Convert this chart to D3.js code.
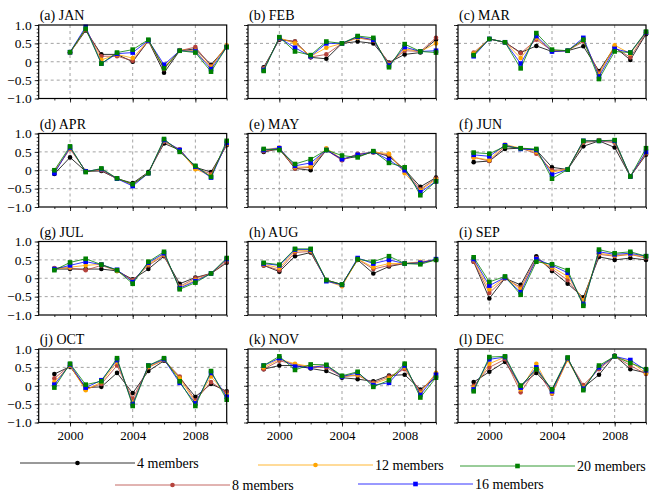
<!DOCTYPE html>
<html>
<head>
<meta charset="utf-8">
<script src="https://cdn.jsdelivr.net/npm/d3@7"></script>
<style>
  body { margin: 0; background: #fff; }
  svg { display: block; }
  svg text { font-family: "Liberation Serif", "Times New Roman", serif !important; }
</style>
</head>
<body>
<svg id="chart" width="663" height="500"></svg>
<script>
// values, one row per ensemble size (4, 8, 12, 16, 20 members)
const years = [1999, 2000, 2001, 2002, 2003, 2004, 2005, 2006, 2007, 2008, 2009, 2010];
const members = ["4 members", "8 members", "12 members", "16 members", "20 members"];
const months = ["JAN", "FEB", "MAR", "APR", "MAY", "JUN", "JUL", "AUG", "SEP", "OCT", "NOV", "DEC"];
const letters = ["a", "b", "c", "d", "e", "f", "g", "h", "i", "j", "k", "l"];
const yTicks = [-1, -0.5, 0, 0.5, 1];
const xTicks = [2000, 2004, 2008];

const jan = [
  [null, 0.25, 0.85, 0.2, 0.2, 0.0, 0.57, -0.3, 0.3, 0.35, -0.08, 0.4],
  [null, 0.25, 0.88, 0.15, 0.15, 0.03, 0.57, -0.2, 0.3, 0.4, -0.12, 0.42],
  [null, 0.25, 0.9, 0.05, 0.2, 0.1, 0.58, -0.15, 0.32, 0.3, -0.15, 0.45],
  [null, 0.26, 0.95, -0.05, 0.22, 0.25, 0.58, -0.08, 0.3, 0.28, -0.2, 0.4],
  [null, 0.26, 0.9, -0.05, 0.25, 0.33, 0.6, -0.18, 0.3, 0.25, -0.27, 0.4]
];
const feb = [
  [-0.15, 0.6, 0.55, 0.12, 0.08, 0.5, 0.55, 0.5, -0.02, 0.2, 0.25, 0.6],
  [-0.18, 0.62, 0.55, 0.13, 0.2, 0.5, 0.65, 0.58, -0.05, 0.3, 0.28, 0.65],
  [-0.2, 0.65, 0.5, 0.15, 0.38, 0.5, 0.65, 0.6, -0.08, 0.35, 0.28, 0.5],
  [-0.22, 0.65, 0.38, 0.15, 0.5, 0.5, 0.68, 0.6, -0.1, 0.4, 0.28, 0.3],
  [-0.25, 0.67, 0.28, 0.18, 0.55, 0.5, 0.7, 0.65, -0.15, 0.48, 0.28, 0.25]
];
const mar = [
  [0.2, 0.62, 0.53, 0.25, 0.43, 0.28, 0.3, 0.42, -0.25, 0.4, 0.05, 0.75],
  [0.25, 0.62, 0.53, 0.23, 0.6, 0.3, 0.3, 0.55, -0.3, 0.38, 0.12, 0.78],
  [0.22, 0.62, 0.53, 0.1, 0.65, 0.3, 0.3, 0.6, -0.35, 0.45, 0.22, 0.8],
  [0.15, 0.62, 0.53, -0.05, 0.7, 0.28, 0.3, 0.65, -0.4, 0.35, 0.25, 0.8],
  [0.18, 0.62, 0.53, -0.18, 0.78, 0.33, 0.3, 0.6, -0.47, 0.28, 0.25, 0.82]
];
const apr = [
  [-0.1, 0.35, -0.03, -0.02, -0.23, -0.35, -0.05, 0.73, 0.55, 0.08, -0.05, 0.68],
  [-0.05, 0.58, -0.02, 0.0, -0.23, -0.38, -0.08, 0.78, 0.57, 0.05, -0.1, 0.7],
  [-0.03, 0.6, -0.03, 0.02, -0.23, -0.4, -0.08, 0.8, 0.55, 0.03, -0.15, 0.72],
  [-0.08, 0.62, -0.03, 0.03, -0.23, -0.43, -0.08, 0.82, 0.55, 0.1, -0.2, 0.75],
  [0.0, 0.65, -0.05, 0.05, -0.22, -0.38, -0.08, 0.85, 0.5, 0.12, -0.18, 0.8]
];
const may = [
  [0.5, 0.58, 0.05, 0.0, 0.55, 0.3, 0.38, 0.5, 0.38, 0.02, -0.45, -0.2],
  [0.52, 0.58, 0.05, 0.08, 0.55, 0.27, 0.45, 0.48, 0.42, 0.0, -0.52, -0.22],
  [0.55, 0.62, 0.08, 0.1, 0.6, 0.3, 0.42, 0.5, 0.45, -0.08, -0.55, -0.25],
  [0.55, 0.6, 0.12, 0.2, 0.55, 0.3, 0.42, 0.5, 0.28, 0.0, -0.6, -0.3],
  [0.58, 0.55, 0.17, 0.3, 0.55, 0.4, 0.35, 0.52, 0.2, 0.08, -0.68, -0.3]
];
const jun = [
  [0.22, 0.25, 0.58, 0.6, 0.55, 0.08, 0.02, 0.65, 0.8, 0.62, -0.17, 0.42],
  [0.35, 0.25, 0.65, 0.6, 0.45, 0.0, 0.02, 0.75, 0.8, 0.75, -0.17, 0.45],
  [0.35, 0.28, 0.7, 0.6, 0.5, -0.05, 0.03, 0.78, 0.82, 0.78, -0.17, 0.48],
  [0.42, 0.38, 0.68, 0.58, 0.55, -0.12, 0.02, 0.8, 0.8, 0.8, -0.17, 0.5],
  [0.48, 0.45, 0.65, 0.6, 0.58, -0.23, 0.02, 0.8, 0.8, 0.82, -0.17, 0.6]
];
const jul = [
  [0.25, 0.25, 0.25, 0.25, 0.2, -0.03, 0.25, 0.6, -0.15, 0.02, 0.13, 0.42],
  [0.28, 0.28, 0.22, 0.35, 0.2, -0.05, 0.35, 0.62, -0.22, 0.0, 0.13, 0.45],
  [0.25, 0.3, 0.35, 0.38, 0.2, -0.08, 0.38, 0.65, -0.25, -0.05, 0.13, 0.5],
  [0.25, 0.35, 0.45, 0.37, 0.23, -0.1, 0.42, 0.68, -0.27, -0.08, 0.13, 0.52],
  [0.22, 0.43, 0.53, 0.37, 0.22, -0.15, 0.45, 0.72, -0.3, -0.12, 0.13, 0.55]
];
const aug = [
  [0.35, 0.18, 0.6, 0.7, -0.05, -0.17, 0.5, 0.13, 0.32, 0.4, 0.42, 0.5],
  [0.35, 0.22, 0.7, 0.73, -0.05, -0.18, 0.52, 0.25, 0.35, 0.4, 0.43, 0.5],
  [0.38, 0.28, 0.75, 0.75, -0.07, -0.22, 0.52, 0.3, 0.4, 0.4, 0.45, 0.5],
  [0.4, 0.35, 0.78, 0.78, -0.08, -0.18, 0.55, 0.4, 0.5, 0.4, 0.42, 0.52],
  [0.42, 0.37, 0.8, 0.8, -0.05, -0.17, 0.52, 0.45, 0.6, 0.4, 0.38, 0.5]
];
const sep = [
  [0.45, -0.55, 0.0, -0.18, 0.6, 0.2, -0.15, -0.52, 0.58, 0.5, 0.55, 0.5],
  [0.45, -0.4, 0.0, -0.25, 0.55, 0.25, -0.05, -0.6, 0.65, 0.6, 0.65, 0.55],
  [0.5, -0.3, 0.02, -0.3, 0.5, 0.3, 0.05, -0.6, 0.68, 0.62, 0.65, 0.58],
  [0.52, -0.2, 0.02, -0.38, 0.52, 0.35, 0.15, -0.7, 0.72, 0.65, 0.68, 0.6],
  [0.57, -0.1, 0.05, -0.45, 0.45, 0.38, 0.22, -0.75, 0.78, 0.68, 0.72, 0.6]
];
const oct = [
  [0.32, 0.52, -0.05, -0.03, 0.35, -0.2, 0.4, 0.68, 0.22, -0.3, 0.05, -0.15],
  [0.2, 0.55, -0.1, 0.05, 0.55, -0.35, 0.5, 0.7, 0.25, -0.4, 0.1, -0.18],
  [0.1, 0.55, -0.12, 0.1, 0.65, -0.45, 0.52, 0.7, 0.2, -0.45, 0.25, -0.25],
  [0.03, 0.58, -0.05, 0.15, 0.7, -0.5, 0.55, 0.72, 0.08, -0.48, 0.35, -0.3],
  [-0.05, 0.6, 0.03, 0.12, 0.75, -0.55, 0.55, 0.75, 0.12, -0.55, 0.4, -0.38]
];
const nov = [
  [0.45, 0.55, 0.55, 0.47, 0.4, 0.22, 0.18, 0.12, 0.28, 0.3, -0.1, 0.22],
  [0.45, 0.68, 0.58, 0.5, 0.5, 0.25, 0.28, 0.08, 0.25, 0.45, -0.15, 0.32],
  [0.5, 0.72, 0.6, 0.52, 0.55, 0.25, 0.3, 0.05, 0.2, 0.5, -0.2, 0.35],
  [0.55, 0.75, 0.52, 0.5, 0.55, 0.25, 0.35, 0.02, 0.08, 0.55, -0.25, 0.3],
  [0.55, 0.8, 0.43, 0.58, 0.57, 0.27, 0.38, -0.03, 0.15, 0.6, -0.32, 0.22]
];
const dec = [
  [0.1, 0.38, 0.65, 0.0, 0.35, -0.1, 0.72, -0.05, 0.3, 0.82, 0.45, 0.35],
  [0.0, 0.5, 0.72, -0.18, 0.45, -0.22, 0.72, 0.02, 0.45, 0.8, 0.55, 0.32],
  [-0.05, 0.6, 0.78, -0.1, 0.6, -0.2, 0.7, -0.05, 0.5, 0.8, 0.65, 0.35],
  [-0.1, 0.72, 0.78, -0.05, 0.5, -0.15, 0.75, -0.08, 0.5, 0.8, 0.7, 0.42],
  [-0.15, 0.78, 0.8, 0.0, 0.45, -0.1, 0.77, -0.12, 0.55, 0.8, 0.62, 0.45]
];
const monthData = [jan, feb, mar, apr, may, jun, jul, aug, sep, oct, nov, dec];

const colors = ["#000000", "#b5433d", "#ffa500", "#0000ff", "#008000"];
const shapes = ["circle", "circle", "circle", "square", "square"];

const svg = d3.select("#chart");
const colX = [38.7, 248, 458], rowY = [25, 133.5, 241.5, 349];
const pw = 188, ph = 73.5;

const x = d3.scaleLinear().domain([1998, 2010]).range([0, pw]);
const y = d3.scaleLinear().domain([-1, 1]).range([ph, 0]);
const fmt = (d) => d === 0 ? "0" : d3.format(".1f")(d).replace("-", "\u2212");

function marker(g, k, cx, cy) {
  if (shapes[k] === "circle") {
    g.append("circle").attr("cx", cx).attr("cy", cy).attr("r", 2.3).attr("fill", colors[k]);
  } else {
    g.append("rect").attr("x", cx - 2.3).attr("y", cy - 2.3)
      .attr("width", 4.6).attr("height", 4.6).attr("fill", colors[k]);
  }
}

monthData.forEach((series, i) => {
  const col = i % 3, row = Math.floor(i / 3);
  const g = svg.append("g").attr("transform", `translate(${colX[col]},${rowY[row]})`);

  g.append("text").attr("x", 1).attr("y", -5).attr("font-size", 14)
    .text(`(${letters[i]}) ${months[i]}`);

  // dashed grid
  g.selectAll(".hg").data([-0.5, 0, 0.5]).join("line")
    .attr("x1", 0).attr("x2", pw).attr("y1", d => y(d)).attr("y2", d => y(d))
    .attr("stroke", "#8c8c8c").attr("stroke-width", 0.8).attr("stroke-dasharray", "3,3");
  g.selectAll(".vg").data(xTicks).join("line")
    .attr("y1", 0).attr("y2", ph).attr("x1", d => x(d)).attr("x2", d => x(d))
    .attr("stroke", "#8c8c8c").attr("stroke-width", 0.8).attr("stroke-dasharray", "3,3");

  // axes: minor and major ticks
  const yMinor = g.append("g").call(d3.axisLeft(y).tickValues(d3.range(-10, 11).map(v => v / 10)).tickSize(2).tickFormat(""));
  const yMajor = g.append("g").call(d3.axisLeft(y).tickValues(yTicks).tickSize(4).tickFormat(col === 0 ? fmt : ""));
  const xMinor = g.append("g").attr("transform", `translate(0,${ph})`)
    .call(d3.axisBottom(x).tickValues(d3.range(1999, 2011)).tickSize(2).tickFormat(""));
  const xMajor = g.append("g").attr("transform", `translate(0,${ph})`)
    .call(d3.axisBottom(x).tickValues(xTicks).tickSize(4).tickFormat(row === 3 ? d3.format("d") : ""));
  [yMinor, yMajor, xMinor, xMajor].forEach(a => {
    a.select(".domain").remove();
    a.selectAll(".tick line").attr("stroke", "#000").attr("stroke-width", 0.8);
    a.selectAll(".tick text").attr("font-size", 13.5).attr("fill", "#000");
  });
  yMajor.selectAll(".tick text").attr("x", -7);
  xMajor.selectAll(".tick text").attr("y", 8).attr("font-size", 13);

  // series, smallest ensemble first so 20 members sits on top
  series.forEach((vals, k) => {
    const pts = years.map((yr, j) => ({ yr, v: vals[j] })).filter(p => p.v !== null);
    g.append("path").datum(pts)
      .attr("d", d3.line().x(p => x(p.yr)).y(p => y(p.v)))
      .attr("fill", "none").attr("stroke", colors[k]).attr("stroke-width", 0.8);
    pts.forEach(p => marker(g, k, x(p.yr), y(p.v)));
  });

  g.append("rect").attr("width", pw).attr("height", ph)
    .attr("fill", "none").attr("stroke", "#000").attr("stroke-width", 1.2);
});

// legend
const legendPos = [[20, 463], [115, 485], [258, 465], [358, 484], [460, 466]];
members.forEach((name, k) => {
  const [lx, ly] = legendPos[k];
  const lg = svg.append("g");
  lg.append("line").attr("x1", lx).attr("x2", lx + 115).attr("y1", ly).attr("y2", ly)
    .attr("stroke", colors[k]).attr("stroke-width", 0.8);
  marker(lg, k, lx + 57.5, ly);
  lg.append("text").attr("x", lx + 117).attr("y", ly + 4.5).attr("font-size", 14).text(name);
});
</script>
</body>
</html>
